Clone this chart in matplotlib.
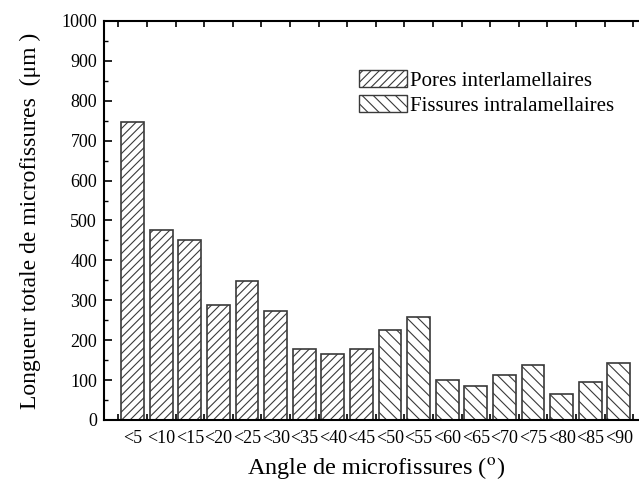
import matplotlib
matplotlib.use('Agg')
import matplotlib.pyplot as plt
from matplotlib import ticker
from matplotlib.patches import Patch

matplotlib.rcParams['font.family'] = ['Liberation Serif', 'DejaVu Serif']
matplotlib.rcParams['mathtext.fontset'] = 'stix'
matplotlib.rcParams['hatch.linewidth'] = 0.8

categories = ["<5", "<10", "<15", "<20", "<25", "<30", "<35", "<40", "<45",
              "<50", "<55", "<60", "<65", "<70", "<75", "<80", "<85", "<90"]
pores = [748, 475, 452, 288, 348, 273, 179, 165, 177]
fissures = [225, 259, 100, 86, 112, 137, 64, 94, 143]

fig = plt.figure(figsize=(6.39, 4.87), dpi=100)
ax = fig.add_axes([0.1628, 0.1376, 0.8504, 0.8193])

n_p = len(pores)
x_p = list(range(n_p))
x_f = list(range(n_p, n_p + len(fissures)))
edge = '#3a3a3a'
ax.bar(x_p, pores, width=0.8, color='white', edgecolor=edge,
       linewidth=1.2, hatch='////')
ax.bar(x_f, fissures, width=0.8, color='white', edgecolor=edge,
       linewidth=1.2, hatch='\\\\\\')

ax.set_xlim(-1, 18)
ax.set_ylim(0, 1000)

# labels centred under bars, small ticks at bar boundaries
ax.set_xticks(range(len(categories)))
ax.set_xticklabels(categories, fontsize=13)
ax.xaxis.set_minor_locator(ticker.FixedLocator([i - 0.5 for i in range(19)]))
ax.tick_params(axis='x', which='major', length=0, pad=7)
ax.tick_params(axis='x', which='minor', direction='in', length=4,
               width=1.2, top=True)

ax.yaxis.set_major_locator(ticker.MultipleLocator(100))
ax.yaxis.set_minor_locator(ticker.MultipleLocator(50))
ax.tick_params(axis='y', which='major', direction='in', length=6,
               width=1.2, labelsize=13, pad=5, right=True)
ax.tick_params(axis='y', which='minor', direction='in', length=3,
               width=1.0, right=True)

for s in ax.spines.values():
    s.set_linewidth(1.5)

ax.set_xlabel("Angle de microfissures ($^{\\mathrm{o}}$)", fontsize=17.5,
              labelpad=6)
ax.set_ylabel("Longueur totale de microfissures  (μm )", fontsize=17,
              labelpad=15)

handles = [Patch(facecolor='white', edgecolor=edge, hatch='////',
                 label='Pores interlamellaires'),
           Patch(facecolor='white', edgecolor=edge, hatch='\\\\\\',
                 label='Fissures intralamellaires')]
ax.legend(handles=handles, loc='upper left', bbox_to_anchor=(0.454, 0.898),
          frameon=False, fontsize=15, handlelength=2.3, handleheight=0.9,
          handletextpad=0.15, labelspacing=0.2, borderaxespad=0)

fig.savefig('out.png', dpi=100)
